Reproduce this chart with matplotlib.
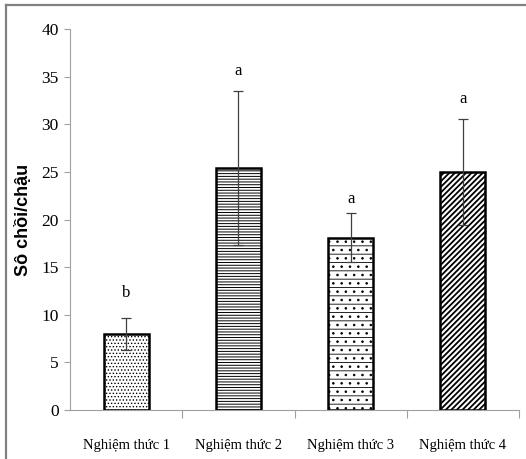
import matplotlib
matplotlib.use("Agg")
import matplotlib.pyplot as plt

categories = ["Nghiệm thức 1", "Nghiệm thức 2", "Nghiệm thức 3", "Nghiệm thức 4"]
means = [8.0, 25.4, 18.1, 25.0]
errors = [1.65, 8.1, 2.6, 5.6]
letters = ["b", "a", "a", "a"]
letter_y = [12.3, 35.6, 22.1, 32.6]
y_ticks = [0, 5, 10, 15, 20, 25, 30, 35, 40]
hatches = [".....", "------", "--..", "//////"]
hatch_lw = [0.6, 0.7, 0.6, 1.3]

plt.rcParams["hatch.linewidth"] = 0.7

fig = plt.figure(figsize=(5.26, 4.59), dpi=100)
ax = fig.add_axes([70/526, 49/459, 449/526, 381/459])

x = list(range(len(categories)))
bars = ax.bar(x, means, width=0.4, color="white", edgecolor="black",
              linewidth=1.8, zorder=2)
for b, h, lw in zip(bars, hatches, hatch_lw):
    b.set_hatch(h)
    try:
        b.set_hatch_linewidth(lw)
    except Exception:
        pass
ax.errorbar(x, means, yerr=errors, fmt="none", ecolor="#404040",
            elinewidth=0.9, capsize=3.5, capthick=0.9, zorder=3)
for xi, lt, ly in zip(x, letters, letter_y):
    ax.text(xi, ly, lt, ha="center", va="center", fontsize=12,
            family="Liberation Serif")

ax.set_xlim(-0.5, 3.5)
ax.set_ylim(0, 40)
ax.set_yticks(y_ticks)
ax.set_yticklabels([str(t) for t in y_ticks], family="Liberation Serif", fontsize=12.5)
ax.set_xticks(x)
ax.set_xticklabels(categories, family="Liberation Serif", fontsize=10.5)
ax.set_xticks([0.5, 1.5, 2.5, 3.5], minor=True)
ax.tick_params(axis="x", which="major", length=0, pad=21)
ax.tick_params(axis="x", which="minor", length=6, color="#a0a0a0", width=0.8)
ax.tick_params(axis="y", length=4, color="#a0a0a0", width=0.8, pad=4)
for s in ["top", "right"]:
    ax.spines[s].set_visible(False)
for s in ["left", "bottom"]:
    ax.spines[s].set_color("#a0a0a0")
    ax.spines[s].set_linewidth(0.8)

ax.set_ylabel("Sô chồi/chậu", family="Liberation Sans", fontweight="bold",
              fontsize=13)
ax.yaxis.set_label_coords(-38/449, 0.5)

# figure frame (left and top)
fig.add_artist(plt.Line2D([6/526, 6/526], [0, 1 - 5/459], color="#808080",
                          linewidth=1.6, transform=fig.transFigure))
fig.add_artist(plt.Line2D([6/526, 1], [1 - 5/459, 1 - 5/459], color="#808080",
                          linewidth=1.6, transform=fig.transFigure))

fig.savefig("out.png", dpi=100)
